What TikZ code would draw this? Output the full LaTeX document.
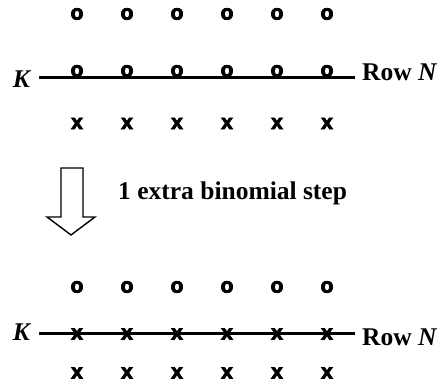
\documentclass[tikz,border=0pt]{standalone}
\usepackage{fontspec}
\setmainfont{Liberation Serif}
\newfontfamily\markfont[FakeBold=4]{Liberation Sans Bold}
\begin{document}
\begin{tikzpicture}[x=1pt,y=1pt,
  pt/.style={inner sep=0pt, font=\markfont\fontsize{21}{21}\selectfont},
  lbl/.style={inner sep=0pt, font=\bfseries\fontsize{25.5}{25.5}\selectfont},
  rowline/.style={line width=3pt}]
\useasboundingbox (0,0) rectangle (445,-390);
% top group
\foreach \i/\x in {1/77,2/127,3/177,4/227,5/277,6/327}{
  \node[pt] (ta\i) at (\x,-14) {o};
  \node[pt] (tb\i) at (\x,-71) {o};
  \node[pt] (tc\i) at (\x,-123.5) {x};
}
\node[lbl, anchor=east] (K1) at (30,-79) {\itshape K};
\node[lbl, anchor=west] (R1) at (362,-72) {Row \itshape N};
\coordinate (L1a) at (39,-78);
\coordinate (L1b) at (355,-78);
\draw[rowline] (L1a) -- (L1b);
% arrow
\coordinate (A1) at (61,-168);
\coordinate (A2) at (83,-168);
\coordinate (A3) at (83,-217);
\coordinate (A4) at (95,-217);
\coordinate (A5) at (71,-235);
\coordinate (A6) at (47,-217);
\coordinate (A7) at (61,-217);
\draw[line width=1.4pt, line join=miter] (A1) -- (A2) -- (A3) -- (A4) -- (A5) -- (A6) -- (A7) -- cycle;
\node[lbl, anchor=west] (S) at (118,-193) {1 extra binomial step};
% bottom group
\foreach \i/\x in {1/77,2/127,3/177,4/227,5/277,6/327}{
  \node[pt] (ba\i) at (\x,-287) {o};
  \node[pt] (bb\i) at (\x,-334) {x};
  \node[pt] (bc\i) at (\x,-373) {x};
}
\node[lbl, anchor=east] (K2) at (30,-332) {\itshape K};
\node[lbl, anchor=west] (R2) at (362,-337) {Row \itshape N};
\coordinate (L2a) at (39,-334);
\coordinate (L2b) at (355,-334);
\draw[rowline] (L2a) -- (L2b);
\end{tikzpicture}
\end{document}
